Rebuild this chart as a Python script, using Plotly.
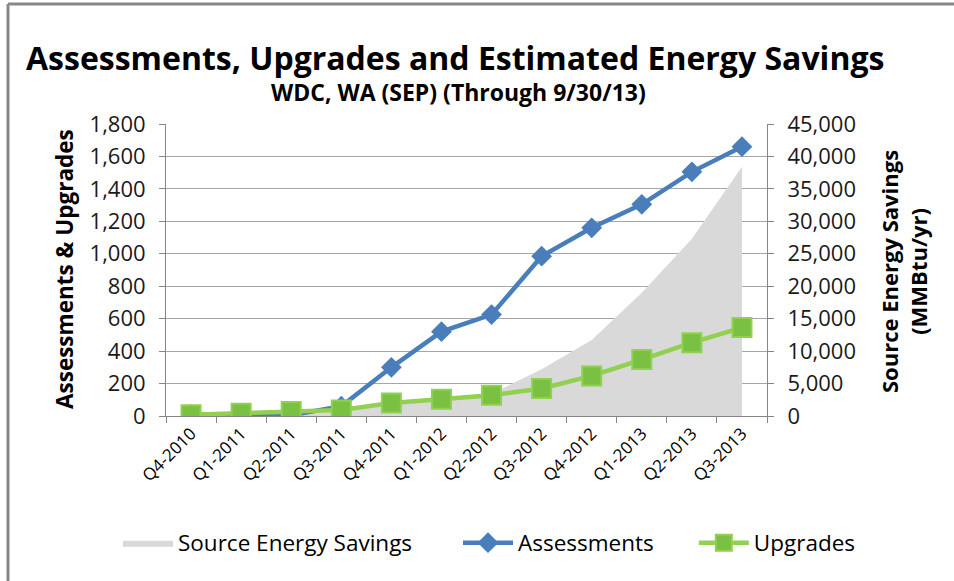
import plotly.graph_objects as go

quarters = ["Q4-2010", "Q1-2011", "Q2-2011", "Q3-2011", "Q4-2011", "Q1-2012",
            "Q2-2012", "Q3-2012", "Q4-2012", "Q1-2013", "Q2-2013", "Q3-2013"]
assessments = [10, 5, 5, 60, 300, 520, 625, 985, 1160, 1305, 1505, 1660]
upgrades = [8, 17, 27, 37, 80, 103, 128, 170, 247, 348, 452, 545]
energy_savings = [0, 100, 200, 700, 1700, 2400, 3400, 7200, 11700, 19000, 27300, 38400]

left_ticks = list(range(0, 1801, 200))
right_ticks = list(range(0, 45001, 5000))

FONT = "Open Sans"
W, H = 954, 581
L, R, T, B = 166, 187, 124, 165
pw, ph = W - L - R, H - T - B
NB = "\u00a0"

fig = go.Figure()
fig.add_trace(go.Scatter(
    x=quarters, y=energy_savings, name="Source Energy Savings" + NB * 7,
    yaxis="y", mode="lines", line=dict(width=0, color="#d9d9d9"),
    fill="tozeroy", fillcolor="#d9d9d9"))
fig.add_trace(go.Scatter(
    x=quarters, y=assessments, name="Assessments" + NB * 6, yaxis="y2",
    mode="lines+markers", line=dict(color="#4a7ebb", width=4.5),
    marker=dict(symbol="diamond", size=16, color="#4a7ebb")))
fig.add_trace(go.Scatter(
    x=quarters, y=upgrades, name="Upgrades", yaxis="y2",
    mode="lines+markers", line=dict(color="#92d050", width=4.5),
    marker=dict(symbol="square", size=19, color="#7ac143",
                line=dict(color="#92d050", width=2))))

axis_line = "#868686"
fig.update_layout(
    width=W, height=H,
    margin=dict(l=L, r=R, t=T, b=B, autoexpand=False),
    paper_bgcolor="white", plot_bgcolor="white",
    font=dict(family=FONT, color="#000000"),
    xaxis=dict(
        type="category", range=[-0.5, 11.5], tickson="boundaries",
        ticks="outside", ticklen=6, tickcolor=axis_line, automargin=False,
        showline=True, linecolor=axis_line, linewidth=1,
        showgrid=False, tickangle=-45,
        tickfont=dict(size=17, family=FONT, color="#000000")),
    yaxis=dict(
        side="right", range=[0, 45000], tickvals=right_ticks, automargin=False,
        tickformat=",d", ticks="outside", ticklen=6, tickcolor=axis_line,
        ticklabelstandoff=9,
        showline=True, linecolor=axis_line, showgrid=True,
        gridcolor="#a6a6a6", gridwidth=1, zeroline=False,
        tickfont=dict(size=22, family=FONT, color="#1a1a1a")),
    yaxis2=dict(
        overlaying="y", side="left", range=[0, 1800], tickvals=left_ticks,
        automargin=False, ticklabelstandoff=9,
        tickformat=",d", ticks="outside", ticklen=6, tickcolor=axis_line,
        showline=True, linecolor=axis_line, showgrid=False, zeroline=False,
        tickfont=dict(size=22, family=FONT, color="#1a1a1a")),
    legend=dict(
        orientation="h", xref="paper", yref="paper",
        x=(118 - L) / pw, xanchor="left", y=-(543 - (T + ph)) / ph,
        yanchor="middle",
        font=dict(size=22.5, family=FONT, color="#000000"),
        itemwidth=50, traceorder="normal"),
    showlegend=True,
)

# title and subtitle
fig.add_annotation(text="<b>Assessments, Upgrades and Estimated Energy Savings</b>",
                   xref="paper", yref="paper", x=(455 - L) / pw,
                   y=1 + (T - 57) / ph, xanchor="center", yanchor="middle",
                   showarrow=False, font=dict(size=32, family=FONT, color="#000000"))
fig.add_annotation(text="<b>WDC, WA (SEP) (Through 9/30/13)</b>",
                   xref="paper", yref="paper", x=(458 - L) / pw,
                   y=1 + (T - 92) / ph, xanchor="center", yanchor="middle",
                   showarrow=False, font=dict(size=23, family=FONT, color="#000000"))

# axis titles
fig.add_annotation(text="<b>Assessments & Upgrades</b>", textangle=-90,
                   xref="paper", yref="paper", x=(64 - L) / pw,
                   y=1 - (269 - T) / ph, xanchor="center", yanchor="middle",
                   showarrow=False, font=dict(size=22.5, family=FONT, color="#000000"))
fig.add_annotation(text="<b>Source Energy Savings<br>(MMBtu/yr)</b>", textangle=-90,
                   xref="paper", yref="paper", x=(903 - L) / pw,
                   y=1 - (272 - T) / ph, xanchor="center", yanchor="middle",
                   showarrow=False, font=dict(size=22, family=FONT, color="#000000"))

# outer chart border (left and top edges visible)
bx = (8 - L) / pw
by = 1 + (T - 4) / ph
fig.add_shape(type="line", xref="paper", yref="paper",
              x0=bx, x1=bx, y0=by, y1=1 - (H + 5 - T) / ph,
              line=dict(color="#888888", width=3), layer="below")
fig.add_shape(type="line", xref="paper", yref="paper",
              x0=bx, x1=(W + 5 - L) / pw, y0=by, y1=by,
              line=dict(color="#888888", width=3), layer="below")

fig.write_html("out.html", config={"displayModeBar": False},
               post_script="document.body.style.margin='0';"
                           "document.body.style.overflow='hidden';")
